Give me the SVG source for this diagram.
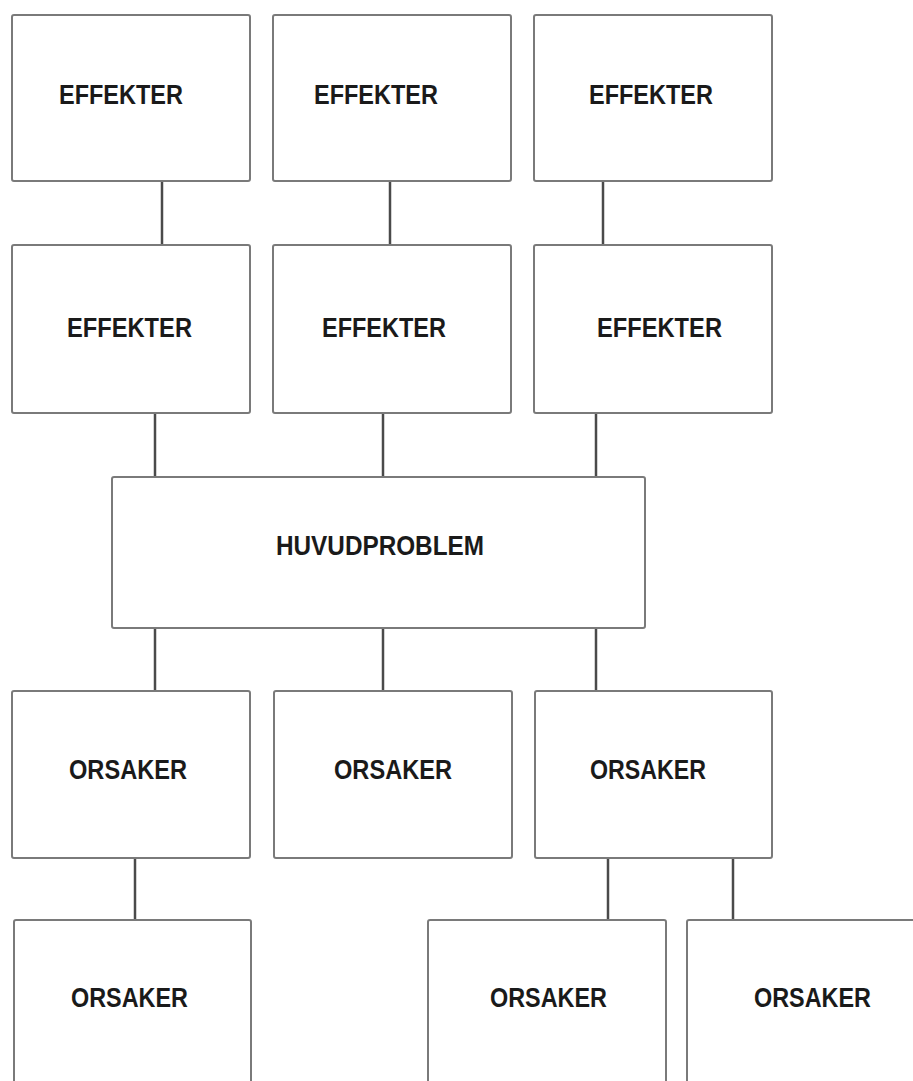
<svg xmlns="http://www.w3.org/2000/svg" width="913" height="1081" viewBox="0 0 913 1081">
<style>
.box{fill:#fff;stroke:#7a7a7a;stroke-width:2}
.lbl{font-family:"Liberation Sans",Arial,sans-serif;font-weight:bold;font-size:27px;fill:#1a1a1a}
.con line{stroke:#4a4a4a;stroke-width:2.5}
</style>
<rect width="913" height="1081" fill="#fff"/>
<g class="con" id="connectors">
<line x1="162" y1="181" x2="162" y2="245"/>
<line x1="390" y1="181" x2="390" y2="245"/>
<line x1="603" y1="181" x2="603" y2="245"/>
<line x1="155" y1="413" x2="155" y2="477"/>
<line x1="383" y1="413" x2="383" y2="477"/>
<line x1="596" y1="413" x2="596" y2="477"/>
<line x1="155" y1="628" x2="155" y2="691"/>
<line x1="383" y1="628" x2="383" y2="691"/>
<line x1="596" y1="628" x2="596" y2="691"/>
<line x1="135" y1="858" x2="135" y2="920"/>
<line x1="608" y1="858" x2="608" y2="920"/>
<line x1="733" y1="858" x2="733" y2="920"/>
</g>
<g id="e1"><rect class="box" x="12" y="15" width="238" height="166" rx="2"/><text class="lbl" x="59" y="104" textLength="124" lengthAdjust="spacingAndGlyphs">EFFEKTER</text></g>
<g id="e2"><rect class="box" x="273" y="15" width="238" height="166" rx="2"/><text class="lbl" x="314" y="104" textLength="124" lengthAdjust="spacingAndGlyphs">EFFEKTER</text></g>
<g id="e3"><rect class="box" x="534" y="15" width="238" height="166" rx="2"/><text class="lbl" x="589" y="104" textLength="124" lengthAdjust="spacingAndGlyphs">EFFEKTER</text></g>
<g id="e4"><rect class="box" x="12" y="245" width="238" height="168" rx="2"/><text class="lbl" x="67" y="337" textLength="125" lengthAdjust="spacingAndGlyphs">EFFEKTER</text></g>
<g id="e5"><rect class="box" x="273" y="245" width="238" height="168" rx="2"/><text class="lbl" x="322" y="337" textLength="124" lengthAdjust="spacingAndGlyphs">EFFEKTER</text></g>
<g id="e6"><rect class="box" x="534" y="245" width="238" height="168" rx="2"/><text class="lbl" x="597" y="337" textLength="125" lengthAdjust="spacingAndGlyphs">EFFEKTER</text></g>
<g id="huvud"><rect class="box" x="112" y="477" width="533" height="151" rx="2"/><text class="lbl" x="276" y="555" textLength="208" lengthAdjust="spacingAndGlyphs">HUVUDPROBLEM</text></g>
<g id="o1"><rect class="box" x="12" y="691" width="238" height="167" rx="2"/><text class="lbl" x="69" y="779" textLength="118" lengthAdjust="spacingAndGlyphs">ORSAKER</text></g>
<g id="o2"><rect class="box" x="274" y="691" width="238" height="167" rx="2"/><text class="lbl" x="334" y="779" textLength="118" lengthAdjust="spacingAndGlyphs">ORSAKER</text></g>
<g id="o3"><rect class="box" x="535" y="691" width="237" height="167" rx="2"/><text class="lbl" x="590" y="779" textLength="116" lengthAdjust="spacingAndGlyphs">ORSAKER</text></g>
<g id="o4"><rect class="box" x="14" y="920" width="237" height="180" rx="2"/><text class="lbl" x="71" y="1007" textLength="117" lengthAdjust="spacingAndGlyphs">ORSAKER</text></g>
<g id="o5"><rect class="box" x="428" y="920" width="238" height="180" rx="2"/><text class="lbl" x="490" y="1007" textLength="117" lengthAdjust="spacingAndGlyphs">ORSAKER</text></g>
<g id="o6"><rect class="box" x="687" y="920" width="238" height="180" rx="2"/><text class="lbl" x="754" y="1007" textLength="117" lengthAdjust="spacingAndGlyphs">ORSAKER</text></g>
</svg>
